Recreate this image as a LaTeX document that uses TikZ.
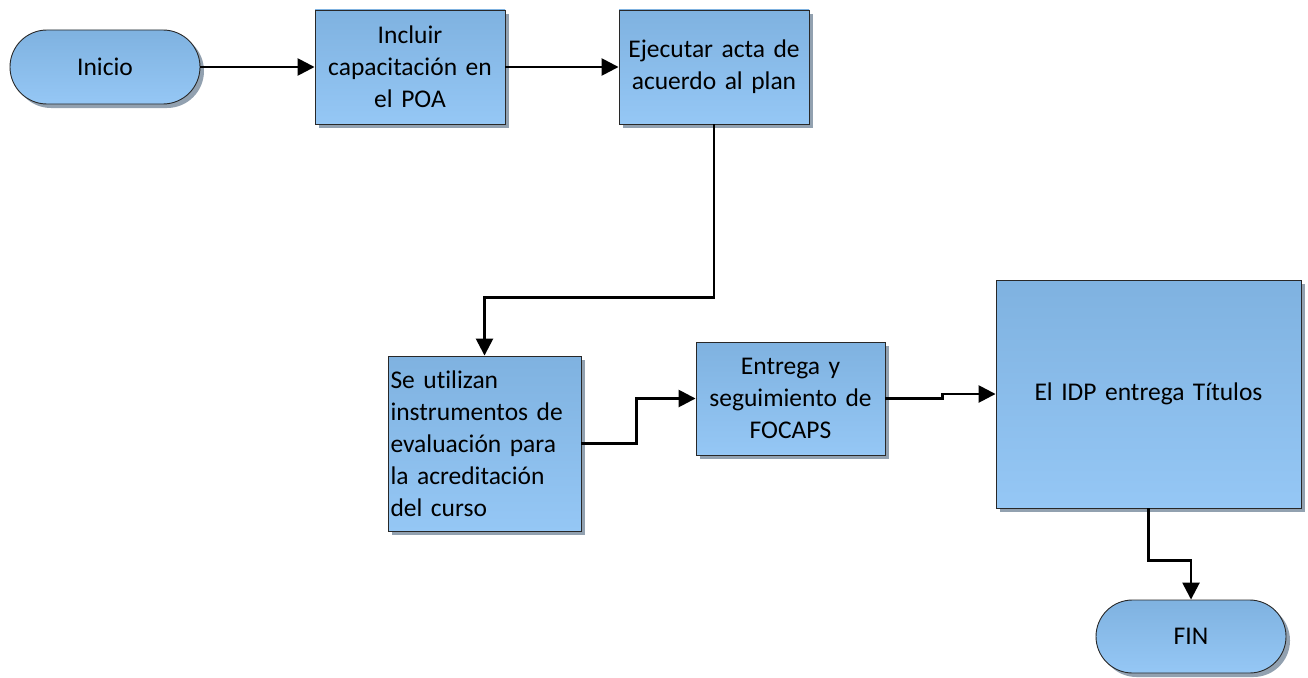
\documentclass[tikz,border=0pt]{standalone}
\usepackage{fontspec}
\setmainfont{Carlito}[Ligatures=NoCommon]
\usetikzlibrary{shadows,arrows.meta,shapes.misc}
\definecolor{topblue}{RGB}{127,178,224}
\definecolor{botblue}{RGB}{149,199,245}
\definecolor{shadowc}{RGB}{110,130,150}
\tikzset{
  base/.style={draw={rgb,255:red,40;green,40;blue,40}, line width=0.9pt, top color=topblue, bottom color=botblue,
    drop shadow={shadow xshift=4pt, shadow yshift=-4pt, fill=shadowc, opacity=0.75},
    font=\fontsize{25.5}{32}\selectfont, inner sep=0pt},
  procbox/.style={base, rectangle, align=center},
  term/.style={base, rounded rectangle, minimum width=190pt, minimum height=74pt},
  conn/.style={line width=2.6pt, -{Triangle[length=17pt,width=17pt]}}
}
\begin{document}
\begin{tikzpicture}[x=1pt,y=-1pt]
\useasboundingbox (0,0) rectangle (1308,677);
\node[term] (ini) at (105,67) {Inicio};
\node[procbox, minimum width=190pt, minimum height=114pt, text width=184pt] (b1) at (410,67) {Incluir\\capacitación en\\el POA};
\node[procbox, minimum width=190pt, minimum height=114pt, text width=184pt] (b2) at (714,67) {Ejecutar acta de\\acuerdo al plan};
\node[procbox, align=left, minimum width=193pt, minimum height=175pt, text width=188pt] (b3) at (484.5,443.5) {Se utilizan\\instrumentos de\\evaluación para\\la acreditación\\del curso};
\node[procbox, minimum width=189pt, minimum height=113pt, text width=183pt] (b4) at (790.5,398.5) {Entrega y\\seguimiento de\\FOCAPS};
\node[procbox, minimum width=305pt, minimum height=228pt, text width=299pt] (b5) at (1148.5,394) {El IDP entrega Títulos};
\node[term, minimum height=73pt] (fin) at (1191,636.5) {FIN};

\draw[conn] (ini.east) -- (b1.west);
\draw[conn] (b1.east) -- (b2.west);
\draw[conn] (b2.south) -- ++(0,173) -| (b3.north);
\draw[conn] (b3.east) -- ++(55,0) |- (b4.west);
\draw[conn] (b4.east) -- ++(57,0) |- (b5.west);
\draw[conn] (b5.south) -- ++(0,52) -| (fin.north);
\end{tikzpicture}
\end{document}
